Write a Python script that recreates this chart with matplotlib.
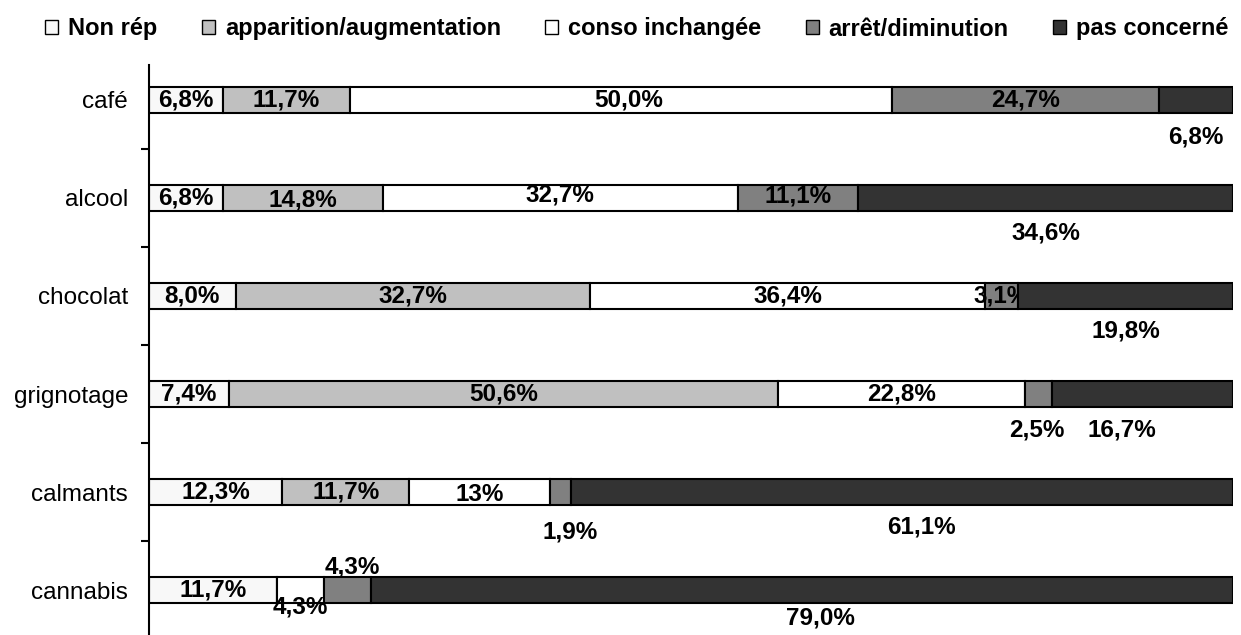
import matplotlib
matplotlib.use("Agg")
import matplotlib.pyplot as plt
from matplotlib.patches import Patch
import numpy as np

plt.rcParams['font.family'] = ['Liberation Sans', 'DejaVu Sans']

categories = ["café", "alcool", "chocolat", "grignotage", "calmants", "cannabis"]
series_names = ["Non rép", "apparition/augmentation", "conso inchangée",
                "arrêt/diminution", "pas concerné"]

non_rep = [6.8, 6.8, 8.0, 7.4, 12.3, 11.7]
apparition = [11.7, 14.8, 32.7, 50.6, 11.7, 0.0]
inchangee = [50.0, 32.7, 36.4, 22.8, 13.0, 4.3]
arret = [24.7, 11.1, 3.1, 2.5, 1.9, 4.3]
pas_concerne = [6.8, 34.6, 19.8, 16.7, 61.1, 79.0]

series = [non_rep, apparition, inchangee, arret, pas_concerne]
colors = ["#f8f8f8", "#c0c0c0", "#ffffff", "#808080", "#333333"]

# label text per series; one value is printed without decimals
def fmt(v, s, r):
    if s == 2 and r == 4:
        return f"{v:.0f}%"
    return f"{v:.1f}%".replace(".", ",")

# label nudges in pixels (dx, dy; dy positive = downward) keyed by (row, series)
nudges = {
    (0, 2): (8, 0), (0, 4): (0, 37),
    (1, 1): (0, 2), (1, 2): (0, -3), (1, 3): (0, -2), (1, 4): (0, 35),
    (2, 4): (0, 35),
    (3, 3): (-2, 36), (3, 4): (-21, 36),
    (4, 2): (0, 2), (4, 3): (10, 40), (4, 4): (20, 35),
    (5, 2): (0, 17), (5, 3): (5, -23), (5, 4): (19, 28),
}

fig = plt.figure(figsize=(12.41, 6.35), dpi=100)
ax = fig.add_axes([149 / 1241, 0.0, (1233 - 149) / 1241, 1 - 65 / 635])

data = np.array(series, dtype=float)          # shape (series, rows)
totals = data.sum(axis=0)
shares = data / totals * 100                  # 100 % stacked
y = np.arange(len(categories))
left = np.zeros(len(categories))
bar_h = 0.27

for s in range(len(series)):
    z = 4 if s == 4 else 2
    ax.barh(y, shares[s], left=left, height=bar_h, color=colors[s],
            edgecolor="black", linewidth=1.5, zorder=z)
    for r in range(len(categories)):
        v = data[s, r]
        if v <= 0:
            continue
        xc = left[r] + shares[s, r] / 2
        dx, dy = nudges.get((r, s), (0, 0))
        ax.annotate(fmt(v, s, r), (xc, y[r]), xytext=(dx, -dy),
                    textcoords="offset pixels", ha="center", va="center",
                    fontsize=17.5, fontweight="bold", color="black", zorder=3)
    left = left + shares[s]

ax.set_xlim(0, 100)
ax.set_ylim(5.459, -0.357)
ax.set_yticks(y)
ax.set_yticklabels(categories, fontsize=17.5)
ax.set_yticks(np.arange(0.5, len(categories) - 1, 1.0), minor=True)
ax.tick_params(axis="y", which="major", length=0, pad=15)
ax.tick_params(axis="y", which="minor", length=6, width=1.5, direction="out")
ax.set_xticks([])
for side in ("top", "right", "bottom"):
    ax.spines[side].set_visible(False)
ax.spines["left"].set_linewidth(1.5)

handles = [Patch(facecolor=c, edgecolor="black", linewidth=1.0) for c in colors]
fig.legend(handles, series_names, loc="center", bbox_to_anchor=(637 / 1241, 1 - 29 / 635),
           ncol=5, frameon=False, handlelength=0.55, handleheight=0.55,
           handletextpad=0.42, columnspacing=1.88,
           prop={"size": 17, "weight": "bold"})

fig.savefig("out.png", dpi=100)
